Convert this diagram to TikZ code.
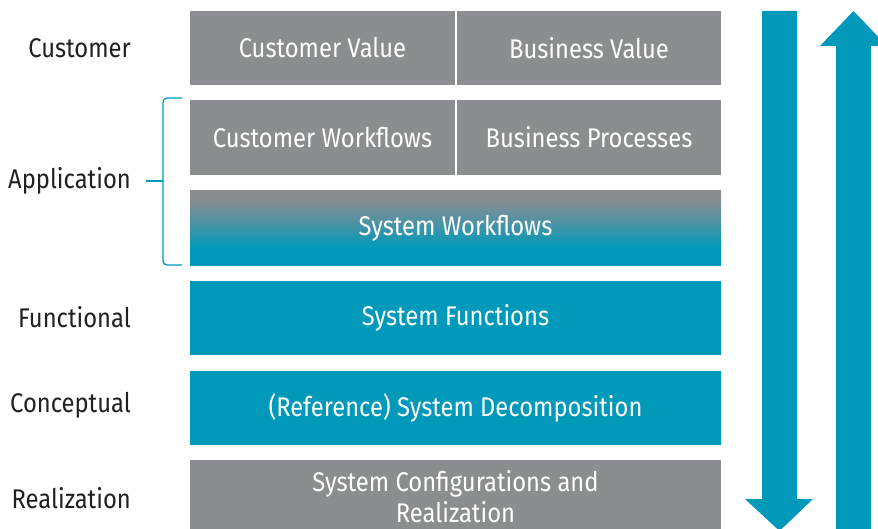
\documentclass[tikz,border=0pt]{standalone}
\usepackage{fontspec}
\setmainfont[FakeStretch=0.88]{Fira Sans}
\definecolor{boxgray}{RGB}{140,141,145}
\definecolor{myteal}{RGB}{0,153,186}
\definecolor{labelink}{RGB}{35,31,32}
\pgfdeclareverticalshading{swshade}{100bp}{color(0bp)=(myteal); color(25bp)=(myteal); color(37bp)=(myteal); color(54bp)=(boxgray!55!myteal); color(70bp)=(boxgray); color(100bp)=(boxgray)}
\begin{document}
\begin{tikzpicture}[x=1pt,y=-1pt,
  box/.style={rectangle, inner sep=0pt, text=white, align=center, font=\fontsize{27}{31}\selectfont},
  grayb/.style={box, fill=boxgray},
  tealb/.style={box, fill=myteal},
  lbl/.style={anchor=east, inner sep=0pt, text=labelink, font=\fontsize{27}{31}\selectfont},
  arr/.style={fill=myteal, draw=none}]
\clip (0,0) rectangle (878,529);
% row 1
\node[grayb, minimum width=265pt, minimum height=74pt] (cv) at (322.5,48) {Customer Value};
\node[grayb, minimum width=264pt, minimum height=74pt] (bv) at (589,48) {Business Value};
% row 2
\node[grayb, minimum width=265pt, minimum height=75pt] (cw) at (322.5,137.5) {Customer Workflows};
\node[grayb, minimum width=264pt, minimum height=75pt] (bp) at (589,137.5) {Business Processes};
% row 3
\node[box, shading=swshade, minimum width=531pt, minimum height=75pt] (sw) at (455.5,228.5) {System Workflows};
% row 4
\node[tealb, minimum width=531pt, minimum height=74pt] (sf) at (455.5,318) {System Functions};
% row 5
\node[tealb, minimum width=531pt, minimum height=74pt] (sd) at (455.5,408) {(Reference) System Decomposition};
% row 6
\node[grayb, minimum width=531pt, minimum height=80pt] (sc) at (455.5,500) {};
\node[box] (sct) at (455.5,496.5) {System Configurations and\\Realization};
% labels
\node[lbl] (lcu) at (131,48) {Customer};
\node[lbl] (lap) at (131,181) {Application};
\node[lbl] (lfu) at (131,317) {Functional};
\node[lbl] (lco) at (131,405) {Conceptual};
\node[lbl] (lre) at (131,498) {Realization};
% brace
\coordinate (bt) at (182,98);
\coordinate (bb) at (182,265);
\coordinate (bm) at (146,181);
\draw[myteal, line width=1.3pt, rounded corners=4pt] (bt) -- (163,98) -- (163,265) -- (bb);
\draw[myteal, line width=1.3pt] (163,181) -- (bm);
% down arrow
\fill[arr] (762,11) -- (797,11) -- (797,499) -- (813,499) -- (779.5,531) -- (745,499) -- (762,499) -- cycle;
% up arrow
\fill[arr] (836,531) -- (871,531) -- (871,46) -- (887,46) -- (853.5,11) -- (820,46) -- (836,46) -- cycle;
\end{tikzpicture}
\end{document}
